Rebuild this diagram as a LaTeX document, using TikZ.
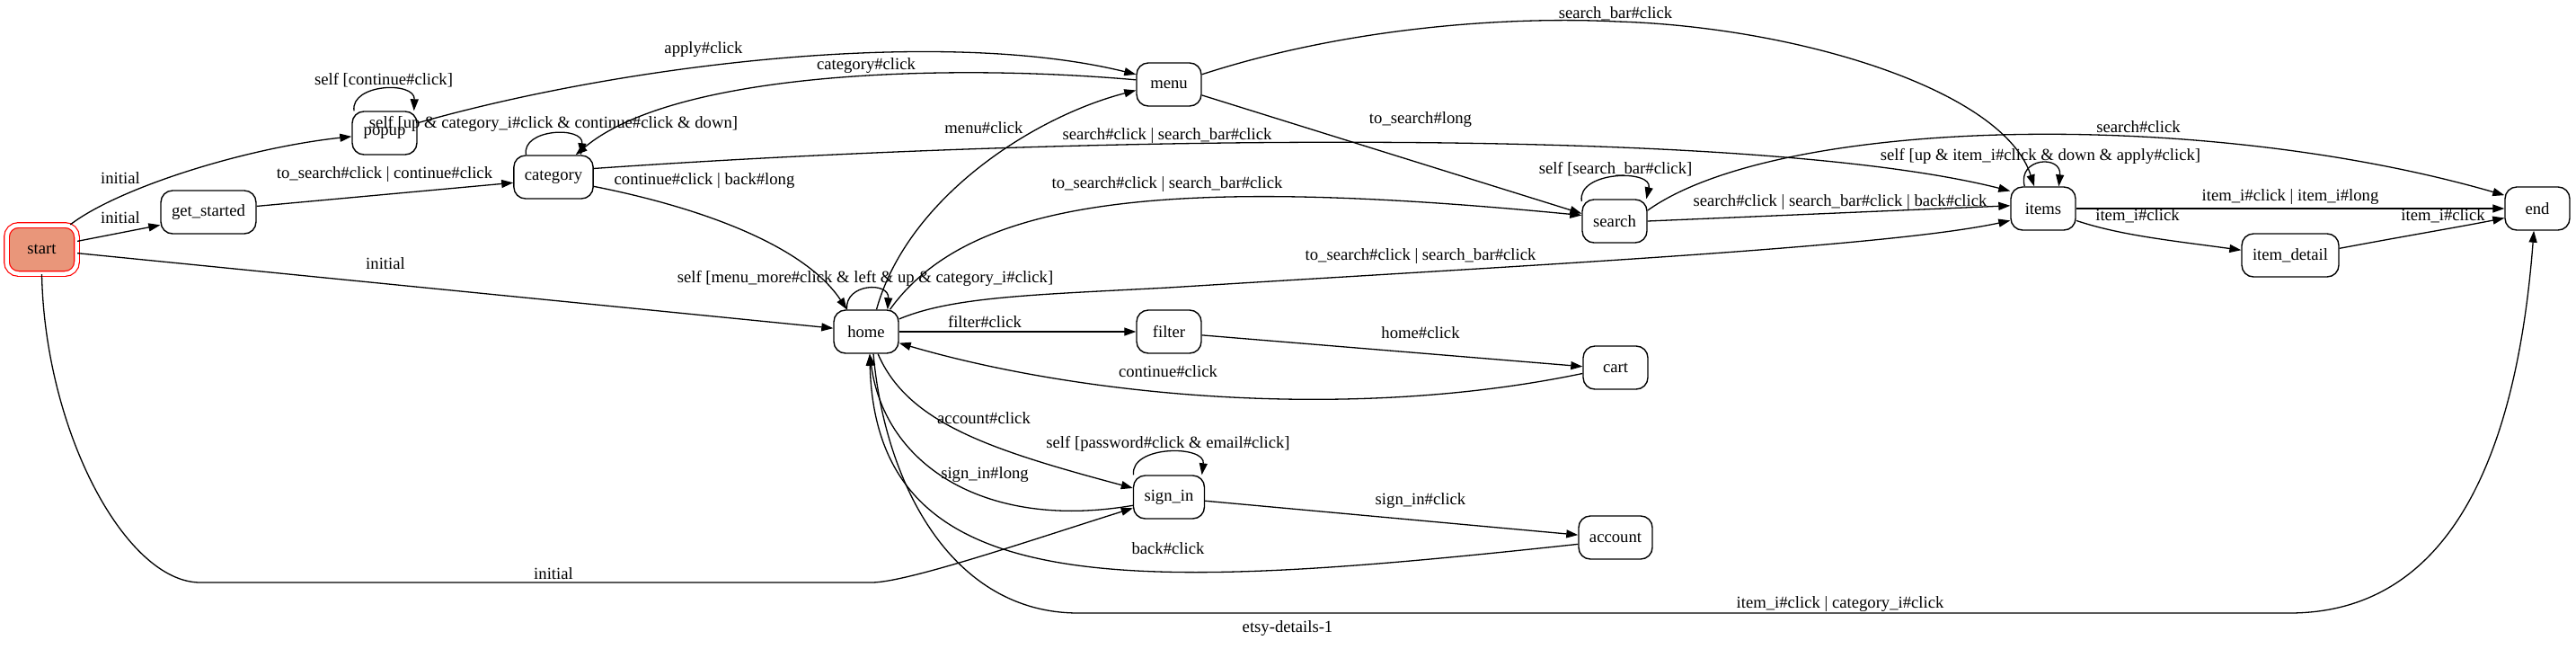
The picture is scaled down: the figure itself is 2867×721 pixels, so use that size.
\documentclass[tikz,border=0pt]{standalone}
\usepackage{fontspec}
\setmainfont{Liberation Serif}
\usetikzlibrary{arrows.meta}
\definecolor{startfill}{HTML}{E9967A}
\newcommand\gvf{\fontsize{18.67}{22}\selectfont}
\begin{document}
\begin{tikzpicture}[x=1pt,y=-1pt,
  st/.style={draw, line width=1.4pt, rounded corners=13pt, minimum width=72pt, minimum height=48pt, inner xsep=12pt, inner ysep=0pt, font=\gvf},
  ed/.style={line width=1.3pt, -{Triangle[length=13pt,width=9pt]}},
  lb/.style={font=\gvf, inner sep=0pt}]
\useasboundingbox[fill=white] (0,0) rectangle (2867,721);

% states
\node[st, fill=startfill, draw=red, double=white, double distance=4.5pt, line width=1.2pt, minimum width=78pt, minimum height=54pt] (start) at (46.5,277.5) {start};
\node[st] (get_started) at (232,236) {get\_started};
\node[st] (popup) at (428,148) {popup};
\node[st] (category) at (616,197) {category};
\node[st] (menu) at (1301,94) {menu};
\node[st] (home) at (964,369) {home};
\node[st] (search) at (1797,246) {search};
\node[st] (items) at (2274,232) {items};
\node[st] (end) at (2824,232) {end};
\node[st] (item_detail) at (2549,284) {item\_detail};
\node[st] (filter) at (1301,369) {filter};
\node[st] (cart) at (1798,409) {cart};
\node[st] (sign_in) at (1301,553) {sign\_in};
\node[st] (account) at (1798,598) {account};

% transitions
\draw[ed] (start.41) .. controls (130,210) and (270,165) .. (popup.186) node[lb] at (134,198) {initial};
\draw[ed] (start.13) -- (get_started.195) node[lb] at (134,242) {initial};
\draw[ed] (start.-6) -- (home.174) node[lb] at (429,293) {initial};
\draw[ed] (start.south) .. controls (50,480) and (140,648) .. (223,648) -- (970,648) .. controls (1010,648) and (1150,600) .. (sign_in.197) node[lb] at (616,638) {initial};
\draw[ed] (get_started.7) -- (category.188) node[lb] at (428,194) {to\_search\#click | continue\#click};
\draw[ed] (popup.144) .. controls (390,93) and (462,90) .. (popup.37) node[lb] at (427,89) {self [continue\#click]};
\draw[ed] (popup.17) .. controls (700,70) and (1050,30) .. (menu.163) node[lb] at (783,55) {apply\#click};
\draw[ed] (menu.172) .. controls (1050,70) and (750,80) .. (category.45) node[lb] at (964,73) {category\#click};
\draw[ed] (category.141) .. controls (580,143) and (650,140) .. (category.39) node[lb] at (616,138) {self [up \& category\_i\#click \& continue\#click \& down]};
\draw[ed] (category.12) .. controls (1200,150) and (1950,140) .. (items.152) node[lb] at (1299,151) {search\#click | search\_bar\#click};
\draw[ed] (category.-13) .. controls (800,235) and (900,280) .. (home.131) node[lb] at (784,201) {continue\#click | back\#long};
\draw[ed] (menu.17) .. controls (1500,30) and (1680,18) .. (1800,24) .. controls (2000,30) and (2230,100) .. (items.112) node[lb] at (1798,15) {search\_bar\#click};
\draw[ed] (menu.-18) -- (search.167) node[lb] at (1581,133) {to\_search\#long};
\draw[ed] (home.65) .. controls (1010,220) and (1150,130) .. (menu.190) node[lb] at (1095,142) {menu\#click};
\draw[ed] (home.131) .. controls (940,315) and (990,313) .. (home.46) node[lb] at (963,310) {self [menu\_more\#click \& left \& up \& category\_i\#click]};
\draw[ed] (home.43) .. controls (1080,220) and (1300,195) .. (search.170) node[lb] at (1299,205) {to\_search\#click | search\_bar\#click};
\draw[ed] (home.21) .. controls (1060,330) and (1150,328) .. (1300,320) .. controls (1700,295) and (2100,275) .. (items.200) node[lb] at (1581,285) {to\_search\#click | search\_bar\#click};
\draw[ed] (home.east) -- (filter.west) node[lb] at (1096,358) {filter\#click};
\draw[ed] (filter.-6) -- (cart.178) node[lb] at (1581,370) {home\#click};
\draw[ed] (cart.190) .. controls (1500,470) and (1200,440) .. (home.-19) node[lb] at (1300,413) {continue\#click};
\draw[ed] (home.-62) .. controls (1010,470) and (1100,500) .. (sign_in.166) node[lb] at (1095,465) {account\#click};
\draw[ed] (sign_in.193) .. controls (1100,590) and (985,520) .. (home.-81) node[lb] at (1096,528) {sign\_in\#long};
\draw[ed] (sign_in.148) .. controls (1258,495) and (1342,495) .. (sign_in.34) node[lb] at (1300,494) {self [password\#click \& email\#click]};
\draw[ed] (sign_in.-6) -- (account.176) node[lb] at (1581,557) {sign\_in\#click};
\draw[ed] (account.190) .. controls (1250,660) and (975,670) .. (home.-81) node[lb] at (1300,610) {back\#click};
\draw[ed] (home.-72) .. controls (985,540) and (1060,682) .. (1200,682) -- (2548,682) .. controls (2720,682) and (2800,520) .. (end.-99) node[lb] at (2048,672) {item\_i\#click | category\_i\#click};
\draw[ed] (search.149) .. controls (1755,190) and (1840,188) .. (search.35) node[lb] at (1798,188) {self [search\_bar\#click]};
\draw[ed] (search.east) -- (items.175) node[lb] at (2048,225) {search\#click | search\_bar\#click | back\#click};
\draw[ed] (search.18) .. controls (1980,130) and (2450,120) .. (end.158) node[lb] at (2380,141) {search\#click};
\draw[ed] (items.130) .. controls (2245,175) and (2295,172) .. (items.55) node[lb] at (2271,174) {self [up \& item\_i\#click \& down \& apply\#click]};
\draw[ed] (items.east) -- (end.west) node[lb] at (2549,219) {item\_i\#click | item\_i\#long};
\draw[ed] (items.-20) .. controls (2360,262) and (2420,268) .. (item_detail.174) node[lb] at (2379,240) {item\_i\#click};
\draw[ed] (item_detail.8) .. controls (2680,262) and (2740,252) .. (end.196) node[lb] at (2719,240) {item\_i\#click};

\node[lb] (caption) at (1433,699) {etsy-details-1};
\end{tikzpicture}
\end{document}
